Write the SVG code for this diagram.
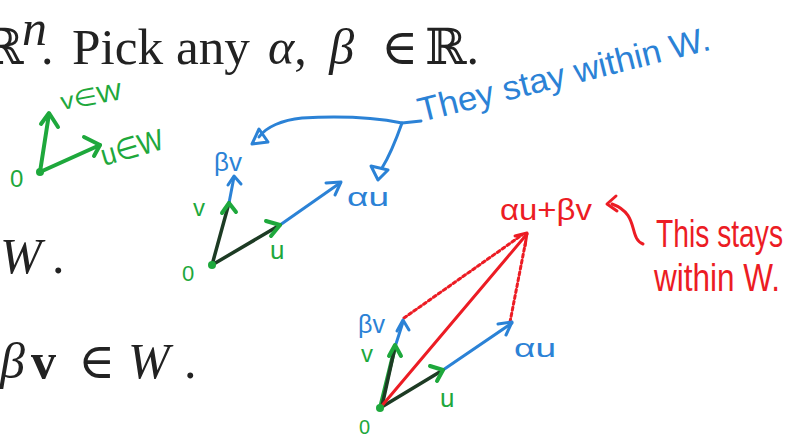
<svg xmlns="http://www.w3.org/2000/svg" width="787" height="439" viewBox="0 0 787 439">
<style>
.pr{font-family:"Liberation Serif","DejaVu Serif",serif;fill:#222;font-size:50px}
.it{font-style:italic}
.hw{font-family:"Liberation Sans","DejaVu Sans",sans-serif}
.g{stroke:#1ea83c;fill:none;stroke-width:4;stroke-linecap:round;stroke-linejoin:round}
.k{stroke:#1d3b24;fill:none;stroke-width:3.5;stroke-linecap:round}
.b{stroke:#2b82d6;fill:none;stroke-width:3;stroke-linecap:round;stroke-linejoin:round}
.r{stroke:#ec1c24;fill:none;stroke-width:3;stroke-linecap:round;stroke-linejoin:round}
.gt{fill:#1ea83c}
.bt{fill:#2b82d6}
.rt{fill:#ec1c24}
</style>
<rect width="787" height="439" fill="#ffffff"/>

<!-- printed text -->
<g id="printed">
<text class="pr" x="-18" y="64">ℝ</text>
<text class="pr it" x="22" y="45" font-size="28">n</text>
<text class="pr" x="41" y="64">.</text>
<text class="pr" x="72" y="64" textLength="178" lengthAdjust="spacingAndGlyphs">Pick any</text>
<text class="pr" x="268" y="64"><tspan class="it">α</tspan>, <tspan class="it" dx="10">β</tspan></text>
<text class="pr" x="381" y="64">∈</text>
<text class="pr" x="425" y="64">ℝ.</text>
<text class="pr it" x="0" y="273">W</text>
<text class="pr" x="52" y="273">.</text>
<text class="pr it" x="0" y="378">β</text>
<text class="pr" x="31" y="378" font-weight="bold">v</text>
<text class="pr" x="78" y="378">∈</text>
<text class="pr it" x="128" y="378">W</text>
<text class="pr" x="184" y="378">.</text>
</g>

<!-- top-left sketch -->
<g id="sketch1">
<line class="g" x1="40" y1="172" x2="49" y2="114"/>
<polyline class="g" points="41,124 49,113 58,127"/>
<line class="g" x1="40" y1="172" x2="100" y2="145"/>
<polyline class="g" points="84,137 100,145 94,156"/>
<circle cx="40" cy="172" r="4" fill="#1ea83c"/>
<text class="hw gt" x="10" y="187" font-size="24">0</text>
<text class="hw gt" x="62" y="110" font-size="24" textLength="62" lengthAdjust="spacingAndGlyphs" transform="rotate(-10 62 110)">v∈W</text>
<text class="hw gt" x="104" y="166" font-size="30" textLength="64" lengthAdjust="spacingAndGlyphs" transform="rotate(-16 104 166)">u∈W</text>
</g>

<!-- middle sketch -->
<g id="sketch2">
<line class="b" x1="229" y1="203" x2="234" y2="177"/>
<polyline class="b" points="228,185 234,176 241,184"/>
<line class="b" x1="280" y1="225" x2="340" y2="183"/>
<polyline class="b" points="326,183 341,182 335,195"/>
<line class="k" x1="212" y1="265" x2="229" y2="203"/>
<line class="k" x1="212" y1="265" x2="280" y2="225"/>
<polyline class="g" points="222,213 229,203 236,212"/>
<polyline class="g" points="266,221 280,225 271,236"/>
<circle cx="212" cy="265" r="4" fill="#1ea83c"/>
<text class="hw gt" x="182" y="281" font-size="22">0</text>
<text class="hw gt" x="193" y="216" font-size="24">v</text>
<text class="hw gt" x="270" y="259" font-size="26">u</text>
<text class="hw bt" x="214" y="171" font-size="26" textLength="28" lengthAdjust="spacingAndGlyphs">βv</text>
<text class="hw bt" x="347" y="206" font-size="26" textLength="42" lengthAdjust="spacingAndGlyphs">αu</text>
</g>

<!-- blue callout -->
<g id="callout-blue">
<path class="b" d="M421,121 L402,123 C372,117 338,116 302,118 C282,120 266,127 259,137"/>
<polygon class="b" points="252,144 259,129 268,142"/>
<path class="b" d="M402,123 C396,140 390,155 382,168"/>
<polygon class="b" points="378,180 371,166 388,170"/>
<text class="hw bt" x="421" y="122" font-size="34" textLength="300" lengthAdjust="spacingAndGlyphs" transform="rotate(-14 421 122)">They stay within W.</text>
</g>

<!-- bottom sketch -->
<g id="sketch3">
<line class="r" x1="404" y1="318" x2="522" y2="235" stroke-dasharray="3 3" stroke-width="2.5"/>
<line class="r" x1="510" y1="322" x2="526" y2="240" stroke-dasharray="3 3" stroke-width="2.5"/>
<line class="b" x1="395" y1="347" x2="403" y2="322"/>
<polyline class="b" points="397,331 403,320 409,330"/>
<line class="b" x1="443" y1="370" x2="512" y2="323"/>
<polyline class="b" points="498,324 512,322 506,335"/>
<line class="g" x1="380" y1="408" x2="395" y2="347"/>
<line class="k" x1="382" y1="406" x2="395" y2="347"/>
<line class="k" x1="380" y1="408" x2="443" y2="370"/>
<polyline class="g" points="389,356 395,345 401,356"/>
<polyline class="g" points="430,366 443,370 437,381"/>
<line class="r" x1="380" y1="408" x2="527" y2="234" stroke-width="5"/>
<polyline class="r" points="515,236 527,233 525,246"/>
<circle cx="380" cy="408" r="4" fill="#1ea83c"/>
<text class="hw gt" x="359" y="434" font-size="20">0</text>
<text class="hw gt" x="361" y="362" font-size="24">v</text>
<text class="hw gt" x="440" y="407" font-size="26">u</text>
<text class="hw bt" x="358" y="333" font-size="26" textLength="27" lengthAdjust="spacingAndGlyphs">βv</text>
<text class="hw bt" x="514" y="357" font-size="26" textLength="42" lengthAdjust="spacingAndGlyphs">αu</text>
</g>

<!-- red callout -->
<g id="callout-red">
<text class="hw rt" x="500" y="220" font-size="30" textLength="92" lengthAdjust="spacingAndGlyphs">αu+βv</text>
<path class="r" d="M643,244 C628,238 640,214 612,204"/>
<polyline class="r" points="616,196 607,204 617,211"/>
<text class="hw rt" x="656" y="247" font-size="38" textLength="127" lengthAdjust="spacingAndGlyphs">This stays</text>
<text class="hw rt" x="654" y="291" font-size="38" textLength="126" lengthAdjust="spacingAndGlyphs">within W.</text>
</g>
</svg>
